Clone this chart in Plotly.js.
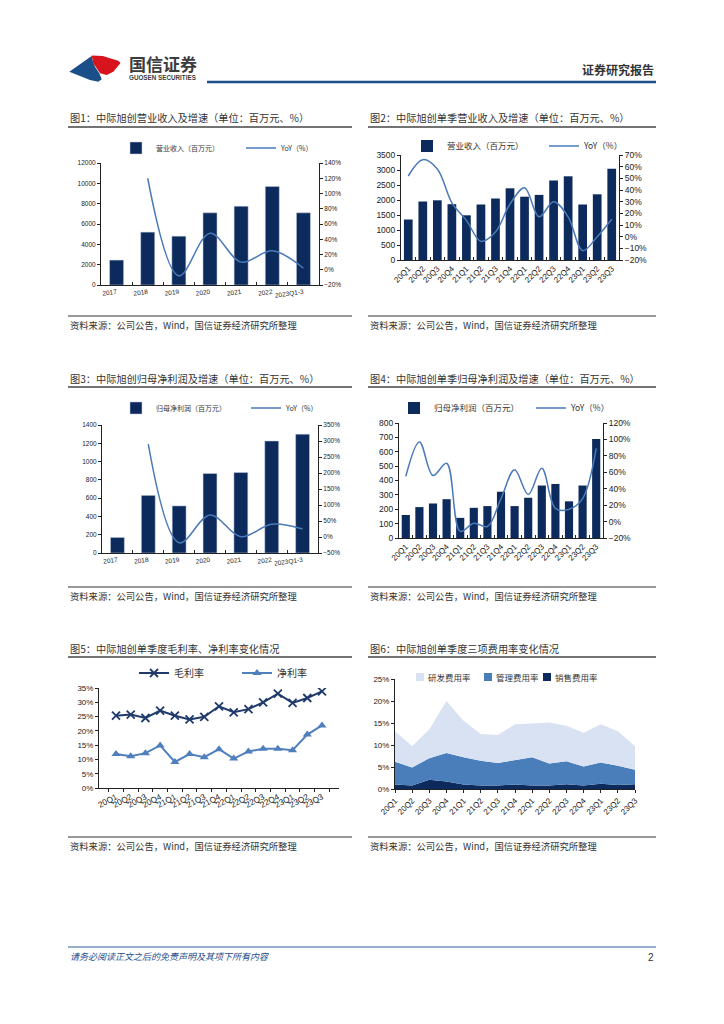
<!DOCTYPE html>
<html><head><meta charset="utf-8">
<script src="https://cdn.plot.ly/plotly-3.0.1.min.js"></script>
<style>html,body{margin:0;padding:0;background:#fff}#chart{width:724px;height:1024px}</style>
</head><body><div id="chart"></div>
<script>
// ---------- data ----------
const annualCats = ['2017','2018','2019','2020','2021','2022','2023Q1-3'];
const revenue = [2450, 5200, 4800, 7100, 7750, 9700, 7100];
const revenueYoY = [null, 120, -8, 48, 10, 25, 2];
const netProfit = [170, 630, 515, 870, 880, 1225, 1300];
const netProfitYoY = [null, 290, -18, 69, 1, 40, 25];

const quarterCats = ['20Q1','20Q2','20Q3','20Q4','21Q1','21Q2','21Q3','21Q4','22Q1','22Q2','22Q3','22Q4','23Q1','23Q2','23Q3'];
const qRevenue = [1350,1950,1990,1860,1490,1850,2050,2390,2110,2170,2650,2790,1850,2190,3040];
const qRevenueYoY = [52,66,58,29,14,-4,4,28,42,17,30,17,-12,0,15];
const qProfit = [160,215,240,270,140,210,222,322,222,280,365,376,255,365,688];
const qProfitYoY = [55,97,56,71,-12,-2,-6,28,63,33,65,16,15,28,89];

const grossMargin = [25.3,25.7,24.5,27.1,25.3,24.0,24.9,28.6,26.5,27.6,30.0,33.0,29.8,31.5,33.8];
const netMargin = [11.9,11.1,12.2,14.9,9.1,11.9,10.8,13.6,10.3,12.8,13.7,13.7,13.2,18.7,21.9];

const salesRate = [1.0,0.8,2.1,1.7,1.0,0.8,0.8,1.0,0.8,0.8,1.1,0.8,1.2,0.9,1.1];
const adminRate = [5.2,4.1,4.9,6.5,6.2,5.6,5.1,5.5,6.4,5.0,5.2,4.3,4.8,4.4,3.3];
const rdRate = [6.9,4.9,6.5,11.8,8.3,6.1,6.4,8.2,7.7,9.3,8.1,7.7,8.7,7.8,5.3];

const feeNames = ['研发费用率','管理费用率','销售费用率'];
const titles = [
  '图1：中际旭创营业收入及增速（单位：百万元、%）',
  '图2：中际旭创单季营业收入及增速（单位：百万元、%）',
  '图3：中际旭创归母净利润及增速（单位：百万元、%）',
  '图4：中际旭创单季归母净利润及增速（单位：百万元、%）',
  '图5：中际旭创单季度毛利率、净利率变化情况',
  '图6：中际旭创单季度三项费用率变化情况'
];
const sourceText = '资料来源：公司公告，Wind，国信证券经济研究所整理';

// ---------- helpers ----------
const W = 724, H = 1024;
const X = p => p / W, Y = p => 1 - p / H;
const FONT = '"Liberation Sans", "Noto Sans CJK SC", sans-serif';
const CJK = '"Noto Sans CJK SC", sans-serif';
const NAVY = '#0c2b5c', LINEC = '#4a7ab8';
const FEE_COLORS = ['#d9e2f3', '#4a7ebb', '#0c2b5c'];
const TXT = '#222';

function xCat(l, r, anchor, size, angle, ticks, extra) {
  return Object.assign({domain:[X(l),X(r)], anchor:anchor, type:'category', showline:true,
    linecolor:'#222', linewidth:1, ticks:ticks, ticklen:3, tickcolor:'#222', tickson:'boundaries',
    tickangle:angle, tickfont:{size:size, color:TXT, family:FONT}, showgrid:false, zeroline:false,
    fixedrange:true}, extra||{});
}
function yLin(t, b, anchor, range, dtick, size, extra) {
  return Object.assign({domain:[Y(b),Y(t)], anchor:anchor, range:range, dtick:dtick, tickformat:'d',
    showline:true, linecolor:'#222', linewidth:1, ticks:'outside', ticklen:3, tickcolor:'#222',
    tickfont:{size:size, color:TXT, family:FONT}, showgrid:false, zeroline:false, fixedrange:true}, extra||{});
}
function yRight(over, anchor, range, dtick, size) {
  return {overlaying:over, side:'right', anchor:anchor, range:range, dtick:dtick, ticksuffix:'%',
    showline:true, linecolor:'#222', linewidth:1, ticks:'outside', ticklen:3, tickcolor:'#222',
    tickfont:{size:size, color:TXT, family:FONT}, showgrid:false, zeroline:false, fixedrange:true};
}
function txt(x, y, s, size, opts) {
  return Object.assign({xref:'paper', yref:'paper', x:X(x), y:Y(y), text:s, showarrow:false,
    xanchor:'left', yanchor:'middle', font:{size:size, color:'#333', family:CJK}}, opts||{});
}
function hline(x0, x1, y, color, w) {
  return {type:'line', xref:'paper', yref:'paper', x0:X(x0), x1:X(x1), y0:Y(y), y1:Y(y),
    line:{color:color, width:w}};
}
function rectPx(x0, y0, x1, y1, color) {
  return {type:'rect', xref:'paper', yref:'paper', x0:X(x0), x1:X(x1), y0:Y(y0), y1:Y(y1),
    fillcolor:color, line:{width:0}};
}
function pathPx(pts, color) {
  const d = pts.map((p,i)=>(i?'L':'M')+X(p[0]).toFixed(5)+','+Y(p[1]).toFixed(5)).join(' ')+' Z';
  return {type:'path', xref:'paper', yref:'paper', path:d, fillcolor:color, line:{width:0}};
}
function legendAt(x, y, size, entry, extra) {
  return Object.assign({x:X(x), y:Y(y), xanchor:'left', yanchor:'middle', orientation:'h',
    bgcolor:'rgba(0,0,0,0)', font:{size:size, color:'#333', family:CJK}, itemwidth:30,
    entrywidth:entry, entrywidthmode:'pixels', tracegroupgap:0, traceorder:'normal'}, extra||{});
}

// ---------- traces ----------
const traces = [
  {type:'bar', x:annualCats, y:revenue, xaxis:'x', yaxis:'y', name:'营业收入（百万元）',
   marker:{color:NAVY, line:{color:'#c8d3e6', width:0.5}}, width:0.45, legend:'legend'},
  {type:'scatter', mode:'lines', x:annualCats, y:revenueYoY, xaxis:'x', yaxis:'y2', name:'YoY（%）',
   line:{color:LINEC, width:1.5, shape:'spline'}, legend:'legend'},

  {type:'bar', x:quarterCats, y:qRevenue, xaxis:'x2', yaxis:'y3', name:'营业收入（百万元）',
   marker:{color:NAVY}, width:0.6, legend:'legend2'},
  {type:'scatter', mode:'lines', x:quarterCats, y:qRevenueYoY, xaxis:'x2', yaxis:'y4', name:'YoY（%）',
   line:{color:LINEC, width:1.5, shape:'spline'}, legend:'legend2'},

  {type:'bar', x:annualCats, y:netProfit, xaxis:'x3', yaxis:'y5', name:'归母净利润（百万元）',
   marker:{color:NAVY, line:{color:'#c8d3e6', width:0.5}}, width:0.45, legend:'legend3'},
  {type:'scatter', mode:'lines', x:annualCats, y:netProfitYoY, xaxis:'x3', yaxis:'y6', name:'YoY（%）',
   line:{color:LINEC, width:1.5, shape:'spline'}, legend:'legend3'},

  {type:'bar', x:quarterCats, y:qProfit, xaxis:'x4', yaxis:'y7', name:'归母净利润（百万元）',
   marker:{color:NAVY}, width:0.6, legend:'legend4'},
  {type:'scatter', mode:'lines', x:quarterCats, y:qProfitYoY, xaxis:'x4', yaxis:'y8', name:'YoY（%）',
   line:{color:LINEC, width:1.5, shape:'spline'}, legend:'legend4'},

  {type:'scatter', mode:'lines+markers', x:quarterCats, y:grossMargin, xaxis:'x5', yaxis:'y9', name:'毛利率',
   line:{color:'#1f3a6b', width:2}, marker:{symbol:'x-thin', size:8, line:{color:'#1f3a6b', width:1.8}},
   legend:'legend5'},
  {type:'scatter', mode:'lines+markers', x:quarterCats, y:netMargin, xaxis:'x5', yaxis:'y9', name:'净利率',
   line:{color:'#4f7fbd', width:2}, marker:{symbol:'triangle-up', size:8, color:'#4f7fbd'},
   legend:'legend5'},

  {type:'scatter', mode:'lines', x:quarterCats, y:salesRate, xaxis:'x6', yaxis:'y10', name:feeNames[2],
   stackgroup:'fee', line:{width:0, color:FEE_COLORS[2]}, fillcolor:FEE_COLORS[2], showlegend:false, legend:'legend6'},
  {type:'scatter', mode:'lines', x:quarterCats, y:adminRate, xaxis:'x6', yaxis:'y10', name:feeNames[1],
   stackgroup:'fee', line:{width:0, color:FEE_COLORS[1]}, fillcolor:FEE_COLORS[1], showlegend:false, legend:'legend6'},
  {type:'scatter', mode:'lines', x:quarterCats, y:rdRate, xaxis:'x6', yaxis:'y10', name:feeNames[0],
   stackgroup:'fee', line:{width:0, color:FEE_COLORS[0]}, fillcolor:FEE_COLORS[0], showlegend:false, legend:'legend6'}
];

// ---------- layout ----------
const annotations = [
  txt(127, 63, '<b>国信证券</b>', 17, {font:{size:17, color:'#3c3c3c', family:CJK}}),
  txt(127, 77.5, '<b>GUOSEN SECURITIES</b>', 6.3, {font:{size:6.3, color:'#3c3c3c', family:FONT}}),
  txt(656, 69, '<b>证券研究报告</b>', 12, {xanchor:'right', font:{size:12, color:'#333', family:CJK}}),
  txt(68, 117, titles[0], 10.2),
  txt(368, 117, titles[1], 10.2),
  txt(68, 378, titles[2], 10.2),
  txt(368, 378, titles[3], 10.2),
  txt(68, 648, titles[4], 10.2),
  txt(368, 648, titles[5], 10.2),
  txt(68, 325, sourceText, 9.3),
  txt(368, 325, sourceText, 9.3),
  txt(68, 596, sourceText, 9.3),
  txt(368, 596, sourceText, 9.3),
  txt(68, 846, sourceText, 9.3),
  txt(368, 846, sourceText, 9.3),
  txt(68, 956, '<i>请务必阅读正文之后的免责声明及其项下所有内容</i>', 9, {font:{size:9, color:'#1f4e8c', family:CJK}}),
  txt(656, 957, '2', 10, {xanchor:'right', font:{size:10, color:'#333', family:FONT}})
];
// chart 6 legend (drawn by hand: three small squares + labels)
const feeLegendX = [416, 484, 543];
feeNames.forEach((n, i) => annotations.push(txt(feeLegendX[i] + 10, 677, n, 8.5)));

const shapes = [
  pathPx([[69.3,71.7],[91.7,56],[92.7,60.7],[95,66.7],[99.3,73.3],[101.7,79.3],[98.3,81.7],[90,80],[80,76]], '#1b4f8a'),
  pathPx([[91.7,55.5],[102.7,56],[110,58.3],[118.3,60.7],[120.5,63],[113.3,71.7],[106.7,75],[100,73.3],[96.7,68.3],[93.3,63.3]], '#d7141e'),
  hline(207, 656, 82, '#1f4e8c', 2.5),
  hline(68, 352, 127, '#444', 1.5), hline(368, 656, 127, '#444', 1.5),
  hline(68, 352, 387, '#444', 1.5), hline(368, 656, 387, '#444', 1.5),
  hline(68, 352, 657, '#444', 1.5), hline(368, 656, 657, '#444', 1.5),
  hline(68, 352, 316, '#777', 1.5), hline(368, 656, 316, '#777', 1.5),
  hline(68, 352, 587, '#777', 1.5), hline(368, 656, 587, '#777', 1.5),
  hline(68, 352, 837, '#777', 1.5), hline(368, 656, 837, '#777', 1.5),
  hline(68, 656, 947, '#2f5f95', 1)
];
feeLegendX.forEach((x, i) => shapes.push(rectPx(x, 673, x + 8, 681, FEE_COLORS[i])));

const layout = {
  width:W, height:H, margin:{l:0,r:0,t:0,b:0}, paper_bgcolor:'#fff', plot_bgcolor:'rgba(0,0,0,0)',
  font:{family:FONT, color:TXT}, showlegend:true, hovermode:false,
  // chart 1
  xaxis: xCat(101, 319, 'y', 6.5, -8, 'inside'),
  yaxis: yLin(163, 285, 'x', [0,12000], 2000, 6.5),
  yaxis2: yRight('y', 'x', [-20,140], 20, 6.5),
  // chart 2
  xaxis2: xCat(401, 619, 'y3', 8, -45, 'inside'),
  yaxis3: yLin(155, 260, 'x2', [0,3500], 500, 8.5),
  yaxis4: yRight('y3', 'x2', [-20,70], 10, 8.5),
  // chart 3
  xaxis3: xCat(102, 318, 'y5', 6.5, -8, 'inside'),
  yaxis5: yLin(425, 553, 'x3', [0,1400], 200, 6.5),
  yaxis6: yRight('y5', 'x3', [-50,350], 50, 6.5),
  // chart 4
  xaxis4: xCat(399, 603, 'y7', 8, -45, 'inside'),
  yaxis7: yLin(423, 538, 'x4', [0,800], 100, 8.5),
  yaxis8: yRight('y7', 'x4', [-20,120], 20, 8.5),
  // chart 5
  xaxis5: xCat(99, 339, 'y9', 8.3, -28, 'outside'),
  yaxis9: yLin(688, 788, 'x5', [0,35], 5, 8, {ticksuffix:'%'}),
  // chart 6
  xaxis6: xCat(395, 635, 'y10', 8, -45, 'outside', {range:[0,14], tickson:'labels'}),
  yaxis10: yLin(679, 789, 'x6', [0,25], 5, 8, {ticksuffix:'%'}),

  legend: legendAt(116, 148, 7, 80),
  legend2: legendAt(407, 146, 8.5, 92),
  legend3: legendAt(116, 408, 7, 85),
  legend4: legendAt(394, 408, 8.5, 92),
  legend5: legendAt(134, 673, 10, 58),
  legend6: legendAt(410, 677, 8, 40, {visible:false}),
  annotations: annotations,
  shapes: shapes
};

Plotly.newPlot('chart', traces, layout, {staticPlot:true, displayModeBar:false});
</script>
</body></html>
